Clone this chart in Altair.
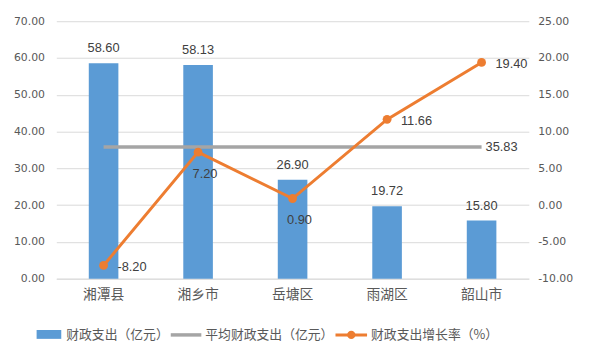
import altair as alt
import pandas as pd

categories = ["湘潭县", "湘乡市", "岳塘区", "雨湖区", "韶山市"]
spending = [58.60, 58.13, 26.90, 19.72, 15.80]
growth = [-8.20, 7.20, 0.90, 11.66, 19.40]
average = 35.83
legend_labels = ["财政支出（亿元）", "平均财政支出（亿元）", "财政支出增长率（%）"]
left_ticks = [0, 10, 20, 30, 40, 50, 60, 70]
right_ticks = [-10, -5, 0, 5, 10, 15, 20, 25]

BLUE = "#5B9BD5"
GRAY = "#A5A5A5"
ORANGE = "#ED7D31"
TXT = "#595959"
LBL = "#404040"
NUMFONT = "DejaVu Sans"
CJK = "Noto Sans CJK SC"

df = pd.DataFrame({"cat": categories, "spend": spending, "growth": growth})
df["idx"] = range(len(df))

base = alt.Chart(df)

x = alt.X(
    "cat:N", sort=categories,
    scale=alt.Scale(paddingInner=0, paddingOuter=0),
    axis=alt.Axis(title=None, labelAngle=0, labelFontSize=14, labelFont=CJK,
                  labelColor=TXT, domainColor="#D9D9D9", ticks=False, labelPadding=9),
)

yl_scale = alt.Scale(domain=[0, 70], nice=False, zero=False)
yl_axis = alt.Axis(title=None, values=left_ticks, format=".2f", labelFont=NUMFONT,
                   labelFontSize=11, labelColor=TXT, domain=False, ticks=False,
                   labelPadding=12, gridColor="#D9D9D9", orient="left")
yr_scale = alt.Scale(domain=[-10, 25], nice=False, zero=False)
yr_axis = alt.Axis(title=None, values=right_ticks, format=".2f", labelFont=NUMFONT,
                   labelFontSize=11, labelColor=TXT, domain=False, ticks=False,
                   labelPadding=9, grid=False, orient="right")

yl = alt.Y("spend:Q", scale=yl_scale, axis=yl_axis)

bars = base.mark_bar(color=BLUE, size=30).encode(x=x, y=yl)
bar_labels = base.mark_text(baseline="bottom", dy=-8, fontSize=13, color=LBL,
                            font="Liberation Sans").encode(
    x=x, y=yl, text=alt.Text("spend:Q", format=".2f"))

avg_line = base.mark_line(color=GRAY, strokeWidth=3.5).encode(
    x=x, y=alt.datum(average, scale=yl_scale, axis=yl_axis))
avg_label = base.transform_filter(alt.datum.idx == len(categories) - 1).mark_text(
    align="left", baseline="middle", dx=4, fontSize=13, color=LBL, font="Liberation Sans").encode(
    x=x, y=alt.datum(average, scale=yl_scale, axis=yl_axis),
    text=alt.value(f"{average:.2f}"))

left = alt.layer(bars, bar_labels, avg_line, avg_label)

yr = alt.Y("growth:Q", scale=yr_scale, axis=yr_axis)
gline = base.mark_line(color=ORANGE, strokeWidth=3).encode(x=x, y=yr)
gpts = base.mark_point(filled=True, color=ORANGE, size=80, opacity=1).encode(x=x, y=yr)
glab_right = base.transform_filter(
    (alt.datum.idx == 0) | (alt.datum.idx == 3) | (alt.datum.idx == 4)).mark_text(
    align="left", baseline="middle", dx=14, dy=2, fontSize=13, color=LBL, font="Liberation Sans").encode(
    x=x, y=yr, text=alt.Text("growth:Q", format=".2f"))
glab_below = base.transform_filter(
    (alt.datum.idx == 1) | (alt.datum.idx == 2)).mark_text(
    align="center", baseline="middle", dx=7, dy=22, fontSize=13, color=LBL, font="Liberation Sans").encode(
    x=x, y=yr, text=alt.Text("growth:Q", format=".2f"))
right = alt.layer(gline, gpts, glab_right, glab_below)

one = alt.Data(values=[{"a": 1}])
ly = 318
leg_rect = alt.Chart(one).mark_rect(color=BLUE).encode(
    x=alt.value(-20), x2=alt.value(5), y=alt.value(ly - 5), y2=alt.value(ly + 4))
leg_gray = alt.Chart(one).mark_rule(color=GRAY, strokeWidth=3.5).encode(
    x=alt.value(116), x2=alt.value(147), y=alt.value(ly))
leg_orange = alt.Chart(one).mark_rule(color=ORANGE, strokeWidth=3).encode(
    x=alt.value(283), x2=alt.value(315), y=alt.value(ly))
leg_dot = alt.Chart(one).mark_point(filled=True, color=ORANGE, size=70, opacity=1).encode(
    x=alt.value(299), y=alt.value(ly))
leg_texts = []
for xpos, lab in zip([10, 151, 319], legend_labels):
    leg_texts.append(alt.Chart(one).mark_text(
        align="left", baseline="middle", fontSize=13, font=CJK, color=TXT).encode(
        x=alt.value(xpos), y=alt.value(ly), text=alt.value(lab)))

main = alt.layer(left, right).resolve_scale(y="independent")

chart = alt.layer(main, leg_rect, leg_gray, leg_orange, leg_dot, *leg_texts).properties(
    width=479, height=261,
    autosize=alt.AutoSizeParams(type="none"),
    padding={"left": 49, "top": 11, "right": 61, "bottom": 79},
).configure(
    locale={"number": {"decimal": ".", "thousands": ",", "grouping": [3],
                       "currency": ["", ""], "minus": "-"}}
).configure_view(stroke=None)

chart.save("out.html", embed_options={"renderer": "svg", "actions": False})
